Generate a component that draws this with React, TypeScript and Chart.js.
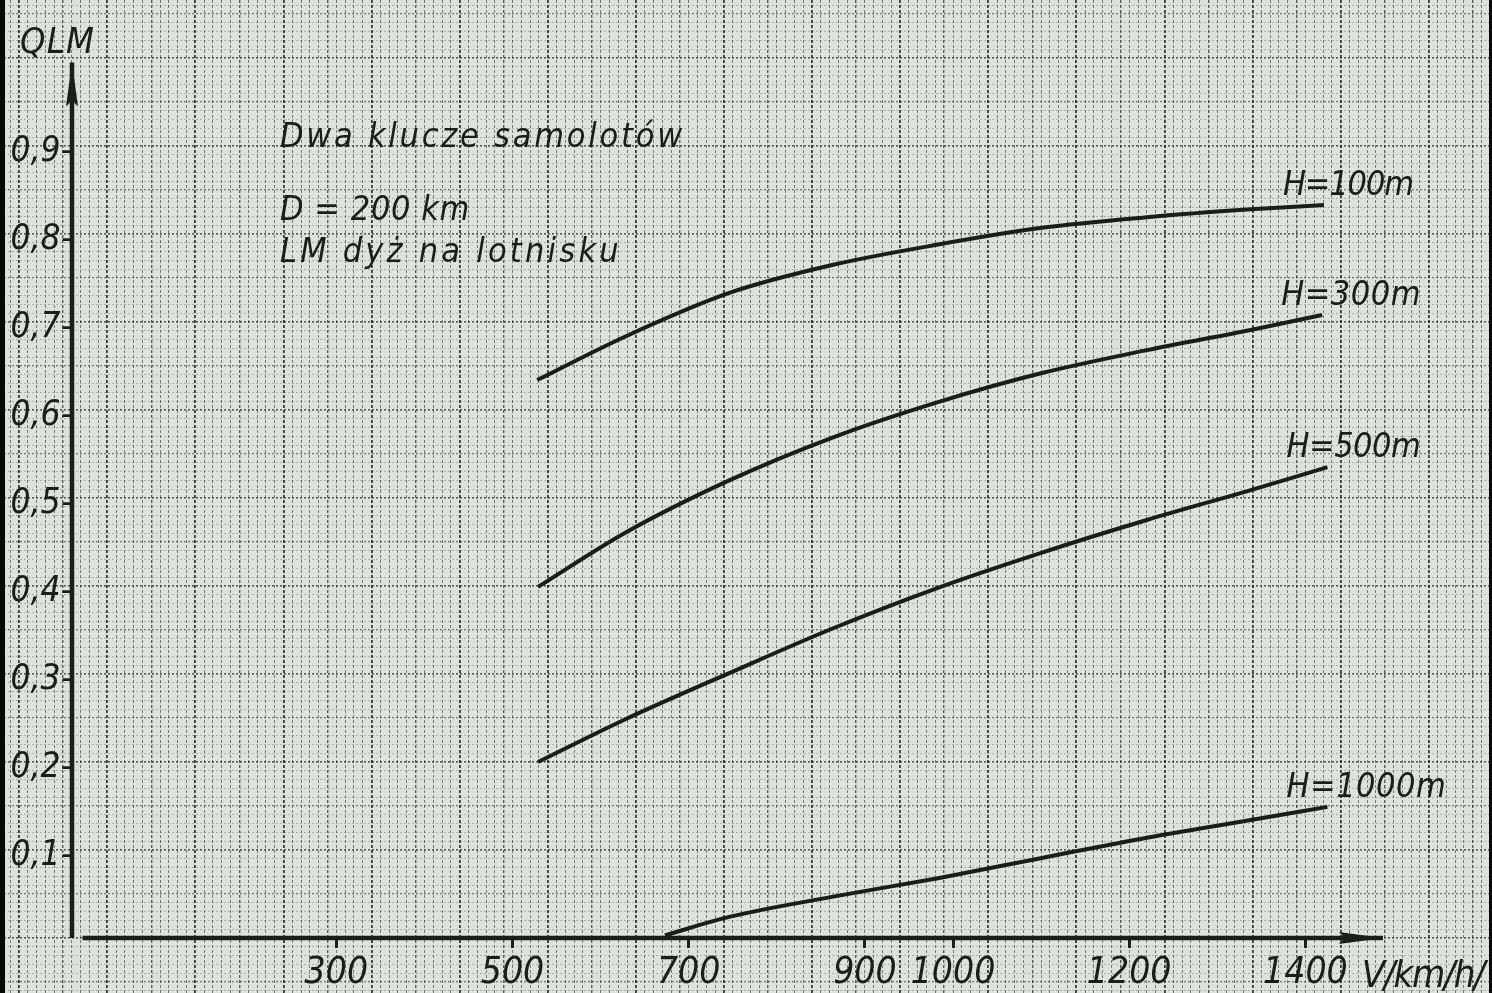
import React, { useEffect, useRef } from "react";
import { Chart, registerables } from "chart.js";

Chart.register(...registerables);

// ---------------- data ----------------
const SERIES_LABELS = ["H=100m", "H=300m", "H=500m", "H=1000m"];

const V_H100 = [528, 627, 746, 864, 983, 1101, 1220, 1338, 1421];
const Q_H100 = [0.634, 0.683, 0.733, 0.765, 0.788, 0.807, 0.819, 0.828, 0.833];

const V_H300 = [529, 627, 746, 864, 983, 1101, 1220, 1338, 1419];
const Q_H300 = [0.399, 0.46, 0.52, 0.569, 0.609, 0.642, 0.668, 0.691, 0.708];

const V_H500 = [529, 627, 746, 864, 983, 1101, 1220, 1338, 1425];
const Q_H500 = [0.2, 0.248, 0.301, 0.352, 0.398, 0.438, 0.475, 0.509, 0.535];

const V_H1000 = [673, 746, 864, 983, 1101, 1220, 1338, 1425];
const Q_H1000 = [0.003, 0.024, 0.047, 0.068, 0.091, 0.114, 0.134, 0.149];

const X_TICK_VALUES = [300, 500, 700, 900, 1000, 1200, 1400];
const Y_TICK_VALUES = [0.1, 0.2, 0.3, 0.4, 0.5, 0.6, 0.7, 0.8, 0.9];

const Y_TITLE = "QLM";
const X_TITLE = "V/km/h/";
const NOTE_LINES = ["Dwa klucze samolotów", "D = 200 km", "LM dyż na lotnisku"];

const AXIS_X_END = 1488; // V where the x-axis arrow ends
const AXIS_Y_END = 0.995; // Q where the y-axis arrow ends

// ---------------- layout / style ----------------
const W = 1492;
const H = 993;
const ORIGIN_PX_X = 72;
const PX_PER_V = 0.881;
const ORIGIN_PX_Y = 938;
const PX_PER_Q = 880;
const X_MIN = -ORIGIN_PX_X / PX_PER_V;
const X_MAX = (W - ORIGIN_PX_X) / PX_PER_V;
const Y_MAX = ORIGIN_PX_Y / PX_PER_Q;
const Y_MIN = -(H - ORIGIN_PX_Y) / PX_PER_Q;

const FONT = "'Liberation Sans Narrow', 'DejaVu Sans Condensed', 'Liberation Sans', sans-serif";
const INK = "#1b1d1b";
const PAPER = "#dde3dc";

const TEXT_LAYOUT = {
  title: { x: -59, y: 1.006, size: 36, width: 75 },
  xTitle: { x: 1464, y: -0.0557, size: 38, width: 122 },
  notes: [
    { x: 236, y: 0.899, size: 34, width: 405 },
    { x: 236, y: 0.816, size: 34, width: 190 },
    { x: 236, y: 0.768, size: 34, width: 342 },
  ],
  seriesLabel: { dx: -41, dy: -10, size: 34, widths: [130, 140, 134, 160] },
};

function pts(xs: number[], ys: number[]) {
  return xs.map((x, i) => ({ x, y: ys[i] }));
}

function drawFitted(ctx: any, text: string, x: number, y: number, size: number, width: number) {
  ctx.font = `italic ${size}px ${FONT}`;
  ctx.letterSpacing = "0px";
  const m = ctx.measureText(text).width;
  const n = Array.from(text).length;
  const ls = n > 0 ? (width - m) / n : 0;
  ctx.letterSpacing = `${ls}px`;
  ctx.fillText(text, x, y);
  ctx.letterSpacing = "0px";
}

function makeArrow(): HTMLCanvasElement {
  const c = document.createElement("canvas");
  c.width = 14;
  c.height = 92;
  const g = c.getContext("2d")!;
  g.fillStyle = INK;
  g.beginPath();
  g.moveTo(7, 46);
  g.lineTo(13, 90);
  g.lineTo(7, 84);
  g.lineTo(1, 90);
  g.closePath();
  g.fill();
  return c;
}

const paperPlugin = {
  id: "paper",
  beforeDraw(chart: any) {
    const ctx = chart.ctx;
    ctx.save();
    ctx.fillStyle = PAPER;
    ctx.fillRect(0, 0, chart.width, chart.height);
    ctx.restore();
  },
  afterDraw(chart: any) {
    const ctx = chart.ctx;
    ctx.save();
    ctx.fillStyle = "#090909";
    ctx.fillRect(0, 0, 5, chart.height);
    ctx.fillRect(chart.width - 3, 0, 3, chart.height);
    ctx.restore();
  },
};

const textPlugin = {
  id: "texts",
  afterDraw(chart: any) {
    const ctx = chart.ctx;
    const xs = chart.scales.x;
    const ys = chart.scales.y;
    ctx.save();
    ctx.fillStyle = INK;
    ctx.textAlign = "left";
    ctx.textBaseline = "alphabetic";
    const t = TEXT_LAYOUT.title;
    drawFitted(ctx, Y_TITLE, xs.getPixelForValue(t.x), ys.getPixelForValue(t.y), t.size, t.width);
    const xt = TEXT_LAYOUT.xTitle;
    drawFitted(ctx, X_TITLE, xs.getPixelForValue(xt.x), ys.getPixelForValue(xt.y), xt.size, xt.width);
    NOTE_LINES.forEach((line, i) => {
      const n = TEXT_LAYOUT.notes[i];
      drawFitted(ctx, line, xs.getPixelForValue(n.x), ys.getPixelForValue(n.y), n.size, n.width);
    });
    const sl = TEXT_LAYOUT.seriesLabel;
    SERIES_LABELS.forEach((label, i) => {
      const meta = chart.getDatasetMeta(i);
      const last = meta.data[meta.data.length - 1];
      if (!last) return;
      drawFitted(ctx, label, last.x + sl.dx, last.y + sl.dy, sl.size, sl.widths[i]);
    });
    ctx.restore();
  },
};

export default function App() {
  const ref = useRef<HTMLCanvasElement | null>(null);

  useEffect(() => {
    if (!ref.current) return;
    const arrow = makeArrow();
    const curve = (label: string, data: any[]) => ({
      label,
      data,
      borderColor: INK,
      borderWidth: 4,
      pointRadius: 0,
      fill: false,
      cubicInterpolationMode: "monotone" as const,
    });

    const chart = new Chart(ref.current, {
      type: "line",
      data: {
        datasets: [
          curve(SERIES_LABELS[0], pts(V_H100, Q_H100)),
          curve(SERIES_LABELS[1], pts(V_H300, Q_H300)),
          curve(SERIES_LABELS[2], pts(V_H500, Q_H500)),
          curve(SERIES_LABELS[3], pts(V_H1000, Q_H1000)),
          {
            label: "axisY",
            data: [
              { x: 0, y: 0 },
              { x: 0, y: AXIS_Y_END },
            ],
            borderColor: INK,
            borderWidth: 4.5,
            pointRadius: [0, 5],
            pointStyle: arrow,
            pointRotation: 0,
            tension: 0,
          } as any,
          {
            label: "axisX",
            data: [
              { x: 12, y: 0 },
              { x: AXIS_X_END, y: 0 },
            ],
            borderColor: INK,
            borderWidth: 4.5,
            pointRadius: [0, 5],
            pointStyle: arrow,
            pointRotation: 90,
            tension: 0,
          } as any,
        ],
      },
      options: {
        animation: false,
        responsive: false,
        maintainAspectRatio: false,
        layout: { padding: 0, autoPadding: false } as any,
        plugins: {
          legend: { display: false },
          tooltip: { enabled: false },
        },
        scales: {
          gx: {
            type: "linear",
            axis: "x",
            position: "bottom",
            min: X_MIN,
            max: X_MAX,
            afterBuildTicks: (s: any) => {
              const t: any[] = [];
              for (let v = Math.ceil(X_MIN / 10) * 10; v <= X_MAX; v += 10) t.push({ value: v });
              s.ticks = t;
            },
            ticks: { display: false },
            grid: {
              drawTicks: false,
              color: (c: any) => {
                const v = Math.round(c.tick.value);
                const m = ((v % 100) + 100) % 100;
                if (m === 40) return "rgba(25,30,25,0.85)";
                if (m === 90) return "rgba(30,36,30,0.7)";
                return "rgba(40,48,42,0.58)";
              },
              lineWidth: (c: any) => {
                const v = Math.round(c.tick.value);
                const m = ((v % 100) + 100) % 100;
                if (m === 40) return 1.8;
                if (m === 90) return 1.4;
                return 1;
              },
            },
            border: { display: false, dash: [3, 2] },
          } as any,
          gy: {
            type: "linear",
            axis: "y",
            position: "left",
            min: Y_MIN,
            max: Y_MAX,
            afterBuildTicks: (s: any) => {
              const t: any[] = [];
              for (let k = Math.ceil(Y_MIN * 100); k <= Y_MAX * 100; k++) t.push({ value: k / 100 });
              s.ticks = t;
            },
            ticks: { display: false },
            grid: {
              drawTicks: false,
              color: (c: any) => {
                const k = Math.round(c.tick.value * 100);
                const m = ((k % 10) + 10) % 10;
                if (m === 0) return "rgba(25,30,25,0.7)";
                if (m === 5) return "rgba(30,36,30,0.55)";
                return "rgba(40,48,42,0.28)";
              },
              lineWidth: (c: any) => {
                const k = Math.round(c.tick.value * 100);
                const m = ((k % 10) + 10) % 10;
                if (m === 0) return 1.6;
                if (m === 5) return 1.3;
                return 1;
              },
            },
            border: { display: false, dash: [2, 2] },
          } as any,
          x: {
            type: "linear",
            min: X_MIN,
            max: X_MAX,
            position: { y: 0 } as any,
            afterBuildTicks: (s: any) => {
              s.ticks = X_TICK_VALUES.map((v) => ({ value: v }));
            },
            afterFit: (s: any) => {
              s.paddingLeft = 0;
              s.paddingRight = 0;
            },
            ticks: {
              autoSkip: false,
              maxRotation: 0,
              padding: 3,
              color: INK,
              font: { family: FONT, size: 37, style: "italic" },
              callback: (v: any) => String(v),
            },
            grid: {
              drawOnChartArea: false,
              drawTicks: true,
              tickLength: 10,
              tickWidth: 3,
              tickColor: INK,
            },
            border: { display: false },
          } as any,
          y: {
            type: "linear",
            min: Y_MIN,
            max: Y_MAX,
            position: { x: 0 } as any,
            afterBuildTicks: (s: any) => {
              s.ticks = Y_TICK_VALUES.map((v) => ({ value: v }));
            },
            afterFit: (s: any) => {
              s.paddingTop = 0;
              s.paddingBottom = 0;
            },
            ticks: {
              autoSkip: false,
              padding: 0,
              labelOffset: 6,
              color: INK,
              font: { family: FONT, size: 35, style: "italic" },
              callback: (v: any) => Number(v).toFixed(1).replace(".", ",") + "-",
            },
            grid: { drawOnChartArea: false, drawTicks: false },
            border: { display: false },
          } as any,
        },
      },
      plugins: [paperPlugin, textPlugin],
    });

    return () => chart.destroy();
  }, []);

  return (
    <div style={{ position: "absolute", left: 0, top: 0, width: W, height: H, overflow: "hidden" }}>
      <canvas ref={ref} width={W} height={H} style={{ display: "block", width: W, height: H }} />
    </div>
  );
}
